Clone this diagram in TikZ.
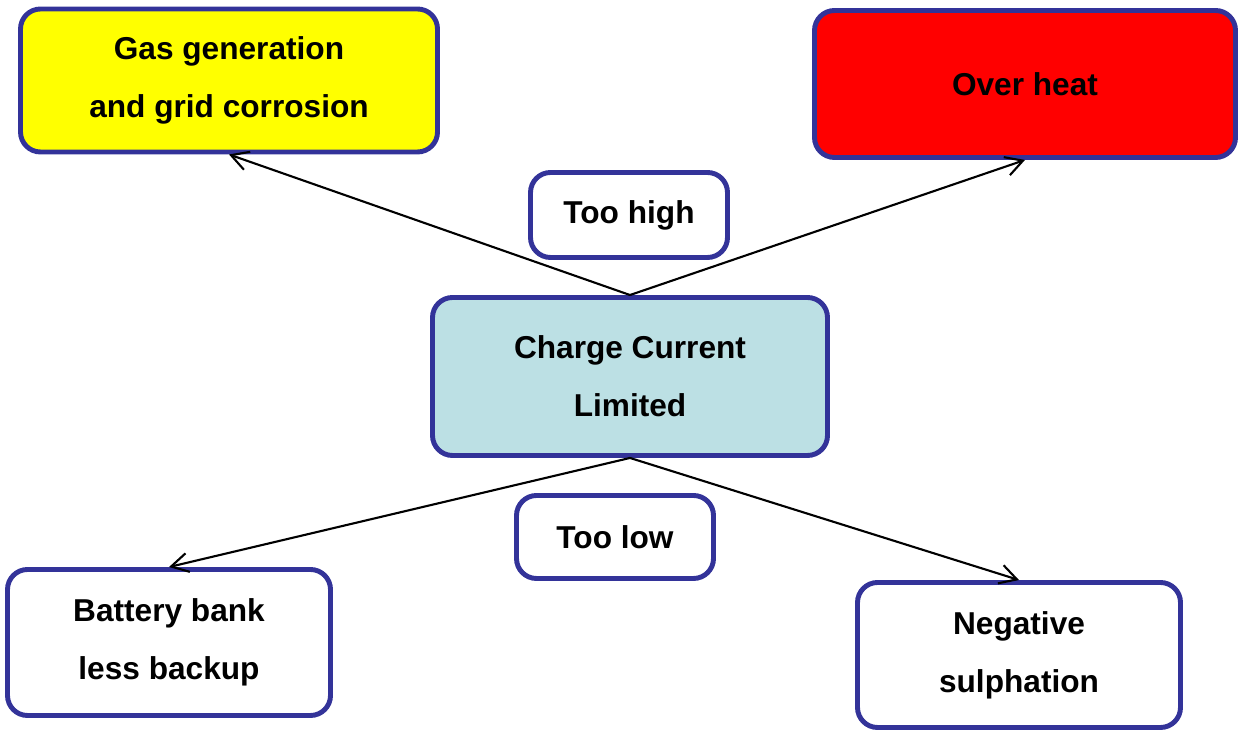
\documentclass[tikz,border=0pt]{standalone}
\usepackage{fontspec}
\setmainfont{Liberation Sans}
\usetikzlibrary{arrows.meta}
\definecolor{boxline}{HTML}{333399}
\definecolor{boxcyan}{HTML}{BCE0E4}
\definecolor{boxyellow}{HTML}{FFFF00}
\definecolor{boxred}{HTML}{FF0000}
\begin{document}
\begin{tikzpicture}[
    box/.style={draw=boxline, line width=2.8pt, rounded corners=0.4cm,
      align=center, font=\fontsize{18}{33}\selectfont\bfseries, inner sep=0pt},
    link/.style={line width=1.2pt, -{Straight Barb[length=3.4mm,width=3.8mm]}}
  ]
    \useasboundingbox (0, 0) rectangle (24.8, 14.7) ;
    \node[box, fill=boxyellow, minimum width=8.34cm, minimum height=2.86cm] (gas) at (4.58, 13.09) {Gas generation\\and grid corrosion} ;
    \node[box, fill=boxred, minimum width=8.42cm, minimum height=2.94cm] (heat) at (20.5, 13.02) {Over heat} ;
    \node[box, fill=white, minimum width=3.94cm, minimum height=1.7cm] (high) at (12.58, 10.4) {Too high} ;
    \node[box, fill=boxcyan, minimum width=7.9cm, minimum height=3.16cm] (charge) at (12.6, 7.17) {Charge Current\\Limited} ;
    \node[box, fill=white, minimum width=3.94cm, minimum height=1.66cm] (low) at (12.3, 3.96) {Too low} ;
    \node[box, fill=white, minimum width=6.46cm, minimum height=2.92cm] (battery) at (3.38, 1.85) {Battery bank\\less backup} ;
    \node[box, fill=white, minimum width=6.46cm, minimum height=2.9cm] (sulph) at (20.38, 1.6) {Negative\\sulphation} ;
    \draw[link] (charge.north) -- (gas.south) ;
    \draw[link] (charge.north) -- (heat.south) ;
    \draw[link] (charge.south) -- (battery.north) ;
    \draw[link] (charge.south) -- (sulph.north) ;
  \end{tikzpicture}
\end{document}
